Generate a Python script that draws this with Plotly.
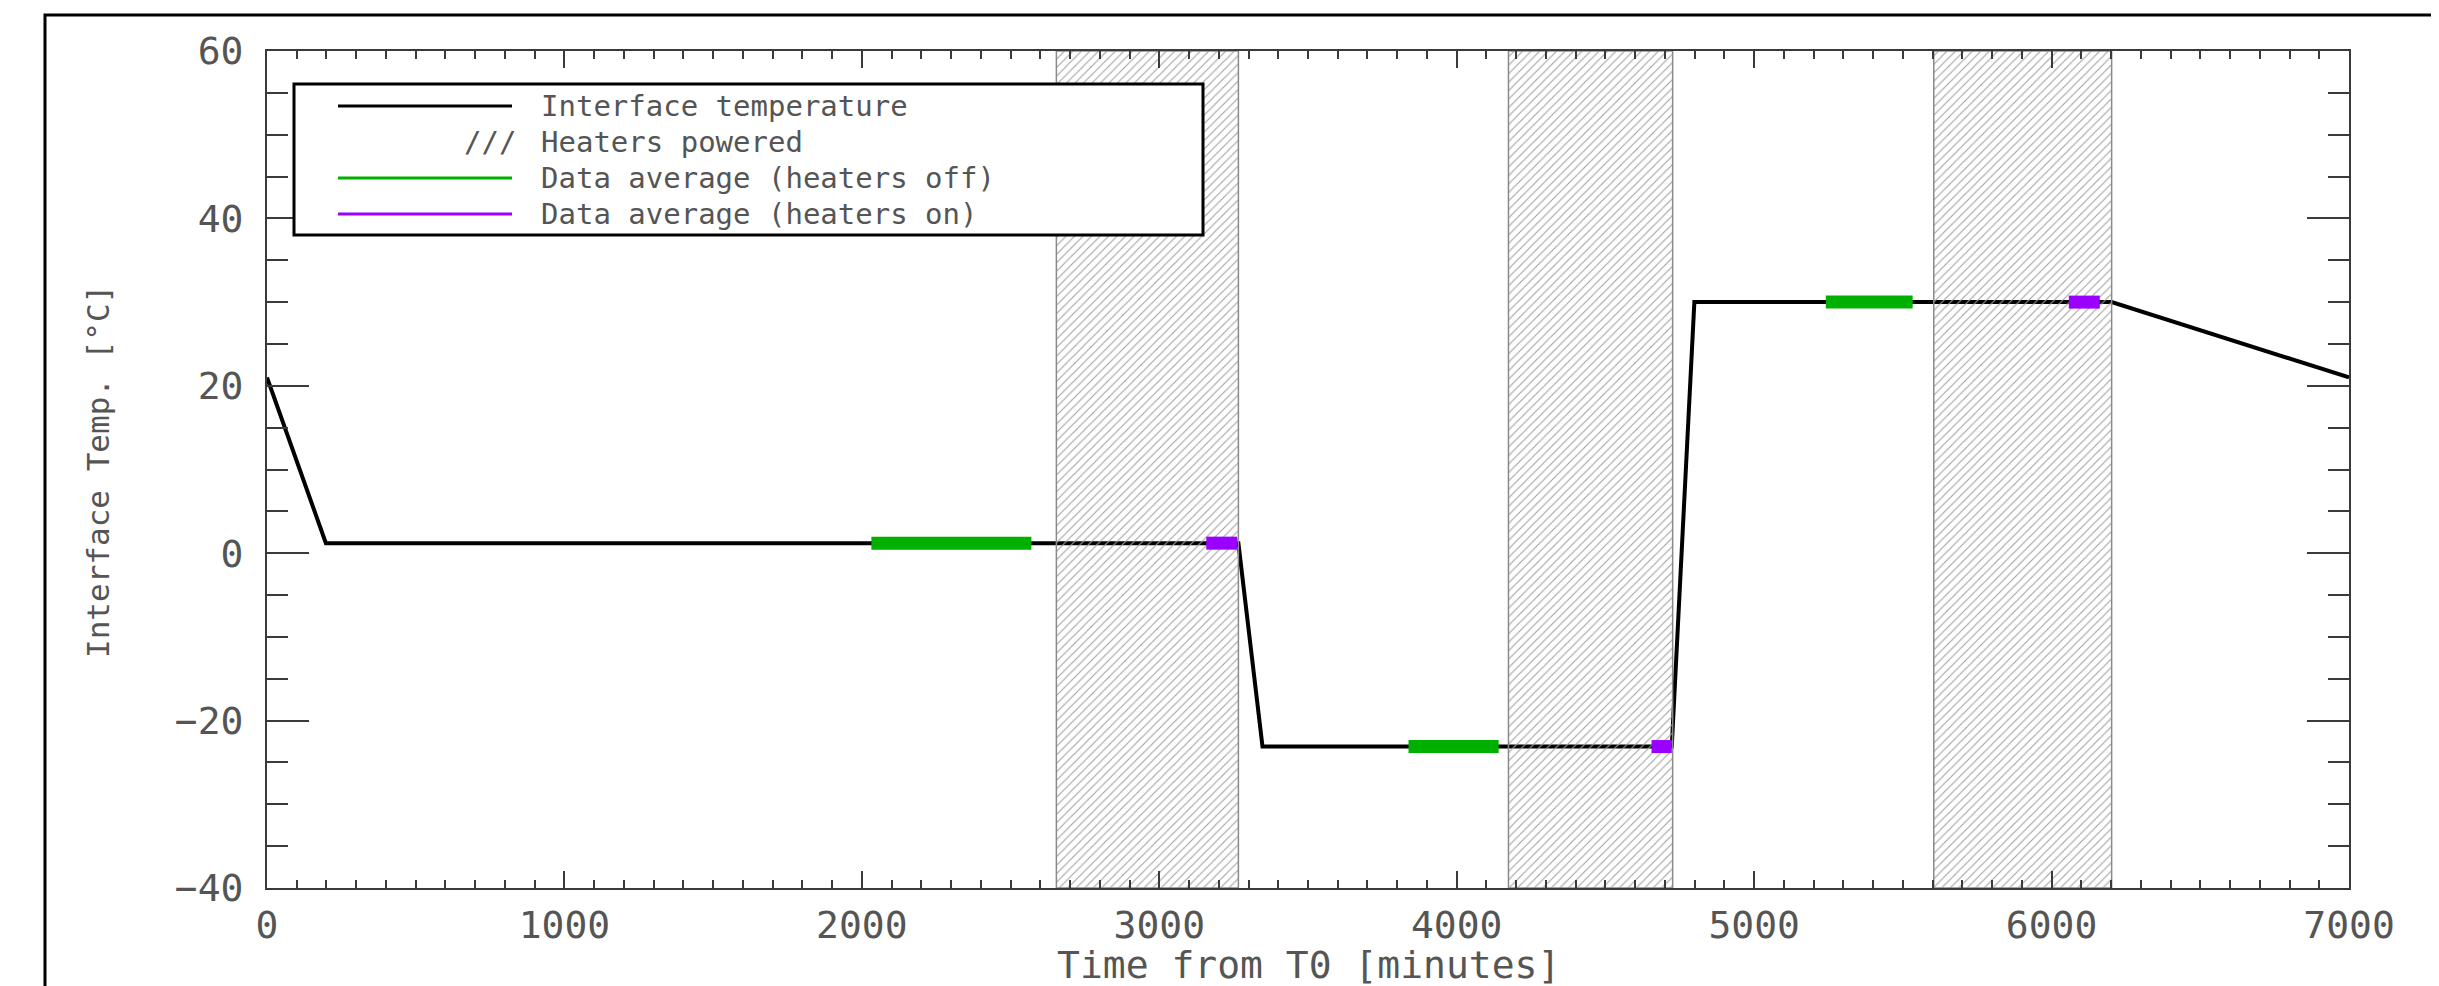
import plotly.graph_objects as go

# ---------------- data ----------------
temp_time = [0, 198, 3266, 3347, 4723, 4799, 6202, 7000]
temp_value = [21.0, 1.2, 1.2, -23.1, -23.1, 30.0, 30.0, 21.0]

heater_start = [2654, 4174, 5604]
heater_end = [3266, 4726, 6202]

avg_off_start = [2032, 3838, 5241]
avg_off_end = [2570, 4141, 5533]
avg_off_value = [1.2, -23.1, 30.0]

avg_on_start = [3158, 4655, 6058]
avg_on_end = [3262, 4723, 6162]
avg_on_value = [1.2, -23.1, 30.0]

x_tick_vals = [0, 1000, 2000, 3000, 4000, 5000, 6000, 7000]
x_tick_text = ["0", "1000", "2000", "3000", "4000", "5000", "6000", "7000"]
y_tick_vals = [-40, -20, 0, 20, 40, 60]
y_tick_text = ["\u221240", "\u221220", "0", "20", "40", "60"]

x_range = [0, 7000]
y_range = [-40, 60]

legend_labels = ["Interface temperature", "Heaters powered",
                 "Data average (heaters off)", "Data average (heaters on)"]
x_title = "Time from T0 [minutes]"
y_title = "Interface Temp. [\u00b0C]"

# ---------------- style ----------------
FONT = "DejaVu Sans Mono"
TXT = "#555555"
AX = "#3a3a3a"
GREEN = "#00b000"
PURPLE = "#9a00ff"

W, H = 2439, 986
PL, PR, PT, PB = 259, 2341, 43, 880  # plot area in pixels


def px(x):
    return (x - PL) / (PR - PL)


def py(y):
    return (PB - y) / (PB - PT)


def segments(starts, ends, vals):
    xs, ys = [], []
    for s, e, v in zip(starts, ends, vals):
        xs += [s, e, None]
        ys += [v, v, None]
    return xs, ys


fig = go.Figure()

# temperature line
fig.add_trace(go.Scatter(x=temp_time, y=temp_value, mode="lines",
                         line=dict(color="black", width=4),
                         showlegend=False, hoverinfo="skip"))

# heater regions (hatched, drawn over the line)
hx, hy = [], []
for s, e in zip(heater_start, heater_end):
    hx += [s, s, e, e, s, None]
    hy += [y_range[0], y_range[1], y_range[1], y_range[0], y_range[0], None]
fig.add_trace(go.Scatter(x=hx, y=hy, mode="lines", fill="toself",
                         fillcolor="rgba(0,0,0,0)",
                         fillpattern=dict(shape="/", size=6, solidity=0.18,
                                          fgcolor="#a0a0a0",
                                          bgcolor="rgba(0,0,0,0)",
                                          fillmode="replace"),
                         line=dict(color="#8a8a8a", width=1.5),
                         showlegend=False, hoverinfo="skip"))

# averages
gx, gy = segments(avg_off_start, avg_off_end, avg_off_value)
fig.add_trace(go.Scatter(x=gx, y=gy, mode="lines",
                         line=dict(color=GREEN, width=13),
                         showlegend=False, hoverinfo="skip"))
vx, vy = segments(avg_on_start, avg_on_end, avg_on_value)
fig.add_trace(go.Scatter(x=vx, y=vy, mode="lines",
                         line=dict(color=PURPLE, width=13),
                         showlegend=False, hoverinfo="skip"))

axis_common = dict(showgrid=False, zeroline=False, showline=True,
                   linecolor=AX, linewidth=2, mirror="ticks",
                   ticks="inside", tickcolor=AX, tickwidth=2,
                   tickfont=dict(family=FONT, size=38, color=TXT))

fig.update_xaxes(range=x_range, tickvals=x_tick_vals, ticktext=x_tick_text,
                 ticklen=17, ticklabelstandoff=2,
                 minor=dict(dtick=100, ticks="inside", ticklen=8,
                            tickcolor=AX, tickwidth=2, showgrid=False),
                 **axis_common)
fig.update_yaxes(range=y_range, tickvals=y_tick_vals, ticktext=y_tick_text,
                 ticklen=42, ticklabelstandoff=14,
                 minor=dict(dtick=5, ticks="inside", ticklen=21,
                            tickcolor=AX, tickwidth=2, showgrid=False),
                 **axis_common)

shapes = []
# outer frame
shapes.append(dict(type="rect", xref="paper", yref="paper",
                   x0=px(37), x1=px(2426), y0=py(1010), y1=py(7),
                   line=dict(color="black", width=3), layer="above"))
# legend box
shapes.append(dict(type="rect", xref="paper", yref="paper",
                   x0=px(286), x1=px(1195), y0=py(227), y1=py(76),
                   fillcolor="white", line=dict(color="black", width=3),
                   layer="above"))

row_y = [98, 134, 170, 206]
LEG_SIZE = 29
sample_colors = ["black", None, GREEN, PURPLE]
annotations = []
for lab, yy, col in zip(legend_labels, row_y, sample_colors):
    if col is not None:
        shapes.append(dict(type="line", xref="paper", yref="paper",
                           x0=px(330), x1=px(504), y0=py(yy), y1=py(yy),
                           line=dict(color=col, width=3), layer="above"))
    else:
        annotations.append(dict(text="///", xref="paper", yref="paper",
                                x=px(510), y=py(yy), xanchor="right",
                                yanchor="middle", showarrow=False,
                                font=dict(family=FONT, size=LEG_SIZE, color=TXT)))
    annotations.append(dict(text=lab, xref="paper", yref="paper",
                            x=px(531), y=py(yy), xanchor="left",
                            yanchor="middle", showarrow=False,
                            font=dict(family=FONT, size=LEG_SIZE, color=TXT)))

# axis titles
annotations.append(dict(text=x_title, xref="paper", yref="paper",
                        x=0.5, y=py(957), xanchor="center", yanchor="middle",
                        showarrow=False,
                        font=dict(family=FONT, size=38, color=TXT)))
annotations.append(dict(text=y_title, xref="paper", yref="paper",
                        x=px(90), y=py(464), xanchor="center", yanchor="middle",
                        textangle=-90, showarrow=False,
                        font=dict(family=FONT, size=31, color=TXT)))

fig.update_layout(width=W, height=H, autosize=False,
                  margin=dict(l=PL, r=W - PR, t=PT, b=H - PB, pad=0),
                  paper_bgcolor="white", plot_bgcolor="white",
                  shapes=shapes, annotations=annotations,
                  showlegend=False)

fig.write_html("out.html")
